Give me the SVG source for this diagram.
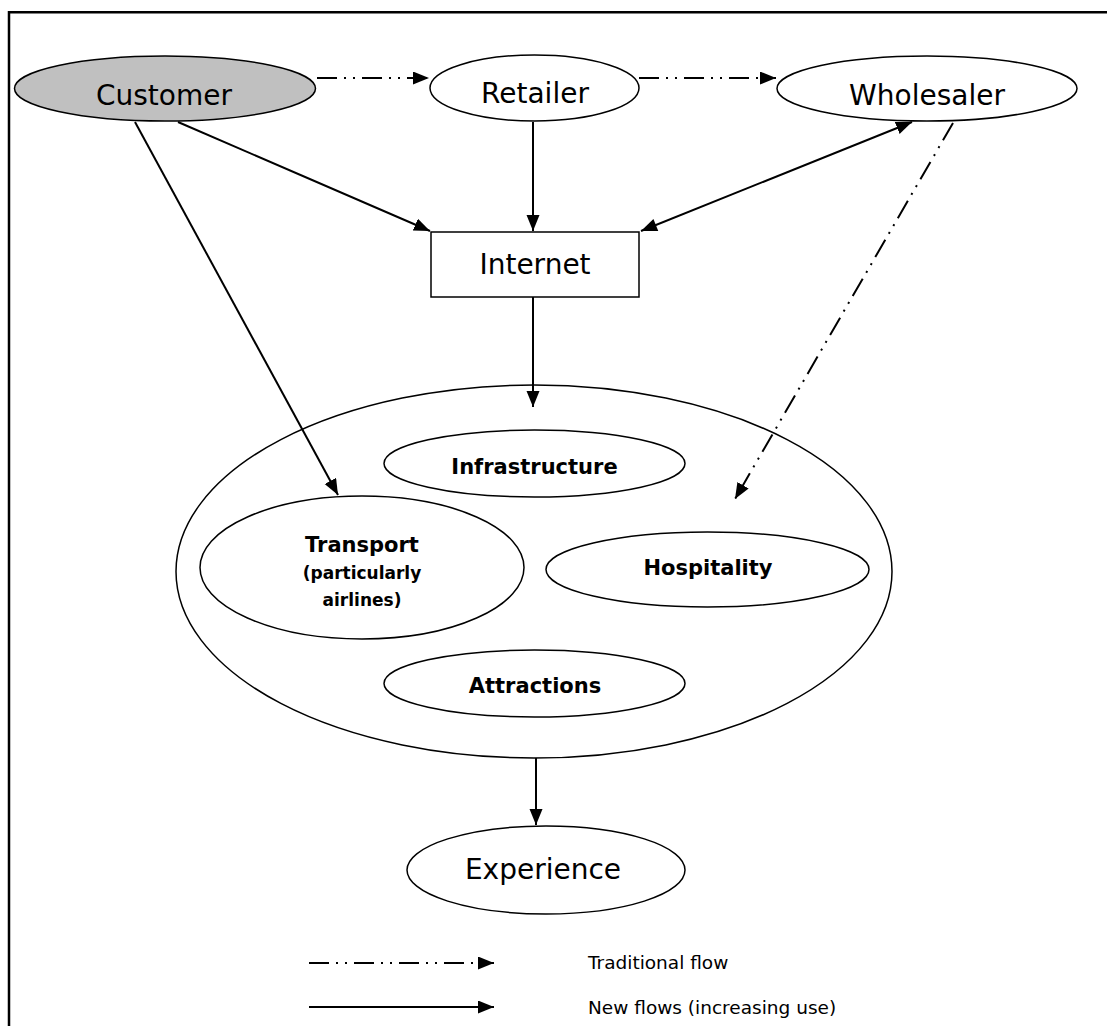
<svg xmlns="http://www.w3.org/2000/svg" width="1107" height="1026" viewBox="0 0 1107 1026">
<defs>
<style>
.node{fill:#fff;stroke:#000;stroke-width:1.5}
.lbl{font-family:"Comic Sans MS","DejaVu Sans",sans-serif;font-size:28px;text-anchor:middle;fill:#000}
.sub{font-family:"Comic Sans MS","DejaVu Sans",sans-serif;font-weight:bold;font-size:21px;text-anchor:middle;fill:#000}
.small{font-family:"Comic Sans MS","DejaVu Sans",sans-serif;font-weight:bold;font-size:17px;text-anchor:middle;fill:#000}
.leg{font-family:Tahoma,"DejaVu Sans",sans-serif;font-size:18.5px;fill:#000}
.solid{fill:none;stroke:#000;stroke-width:2}
.trad{fill:none;stroke:#000;stroke-width:2;stroke-dasharray:20 7 2 7 2 7}
</style>
<marker id="ah" markerUnits="userSpaceOnUse" markerWidth="17" markerHeight="14" refX="16" refY="6.5" orient="auto">
<path d="M0,0 L16,6.5 L0,13 Z" fill="#000"/>
</marker>
<marker id="ahs" markerUnits="userSpaceOnUse" markerWidth="17" markerHeight="14" refX="0" refY="6.5" orient="auto">
<path d="M16,0 L0,6.5 L16,13 Z" fill="#000"/>
</marker>
</defs>
<rect width="1107" height="1026" fill="#fff"/>
<path d="M9,1026 V12.3 H1107" fill="none" stroke="#000" stroke-width="2.5"/>

<g id="customer">
<ellipse cx="165" cy="88.5" rx="150.5" ry="32.5" fill="#c0c0c0" stroke="#000" stroke-width="1.5"/>
<text class="lbl" x="164" y="105">Customer</text>
</g>
<g id="retailer">
<ellipse class="node" cx="534.5" cy="88" rx="104.5" ry="33"/>
<text class="lbl" x="535" y="103">Retailer</text>
</g>
<g id="wholesaler">
<ellipse class="node" cx="927" cy="88.5" rx="150" ry="32.5"/>
<text class="lbl" x="927" y="105">Wholesaler</text>
</g>
<g id="internet">
<rect class="node" x="431" y="232" width="208" height="65"/>
<text class="lbl" x="535" y="274">Internet</text>
</g>
<g id="destination">
<ellipse cx="534" cy="571.5" rx="358" ry="186.5" fill="none" stroke="#000" stroke-width="1.5"/>
</g>
<g id="infrastructure">
<ellipse class="node" cx="534.5" cy="463.5" rx="150.5" ry="33.5"/>
<text class="sub" x="534.5" y="474">Infrastructure</text>
</g>
<g id="transport">
<ellipse class="node" cx="362" cy="567.5" rx="162" ry="71.5"/>
<text class="sub" x="362" y="552">Transport</text>
<text class="small" x="362" y="579">(particularly</text>
<text class="small" x="362" y="606">airlines)</text>
</g>
<g id="hospitality">
<ellipse class="node" cx="707.5" cy="569.5" rx="161.5" ry="37.5"/>
<text class="sub" x="708" y="575">Hospitality</text>
</g>
<g id="attractions">
<ellipse class="node" cx="534.5" cy="683.5" rx="150.5" ry="33.5"/>
<text class="sub" x="535" y="693">Attractions</text>
</g>
<g id="experience">
<ellipse class="node" cx="546" cy="870" rx="139" ry="44"/>
<text class="lbl" x="543" y="879">Experience</text>
</g>

<g id="connectors">
<line class="trad" x1="317" y1="78" x2="429" y2="78" marker-end="url(#ah)"/>
<line class="trad" x1="639" y1="78" x2="776" y2="78" marker-end="url(#ah)"/>
<line class="solid" x1="178" y1="122" x2="430" y2="231" marker-end="url(#ah)"/>
<line class="solid" x1="135" y1="122" x2="338" y2="495" marker-end="url(#ah)"/>
<line class="solid" x1="533" y1="122" x2="533" y2="231" marker-end="url(#ah)"/>
<line class="solid" x1="641" y1="231" x2="912" y2="122" marker-start="url(#ahs)" marker-end="url(#ah)"/>
<line class="trad" x1="953" y1="123" x2="735" y2="499" marker-end="url(#ah)"/>
<line class="solid" x1="533" y1="297" x2="533" y2="407" marker-end="url(#ah)"/>
<line class="solid" x1="536" y1="758" x2="536" y2="825" marker-end="url(#ah)"/>
</g>

<g id="legend">
<line class="trad" x1="309" y1="963" x2="494" y2="963" marker-end="url(#ah)"/>
<line class="solid" x1="309" y1="1007" x2="494" y2="1007" marker-end="url(#ah)"/>
<text class="leg" x="588" y="969">Traditional flow</text>
<text class="leg" x="588" y="1014">New flows (increasing use)</text>
</g>
</svg>
